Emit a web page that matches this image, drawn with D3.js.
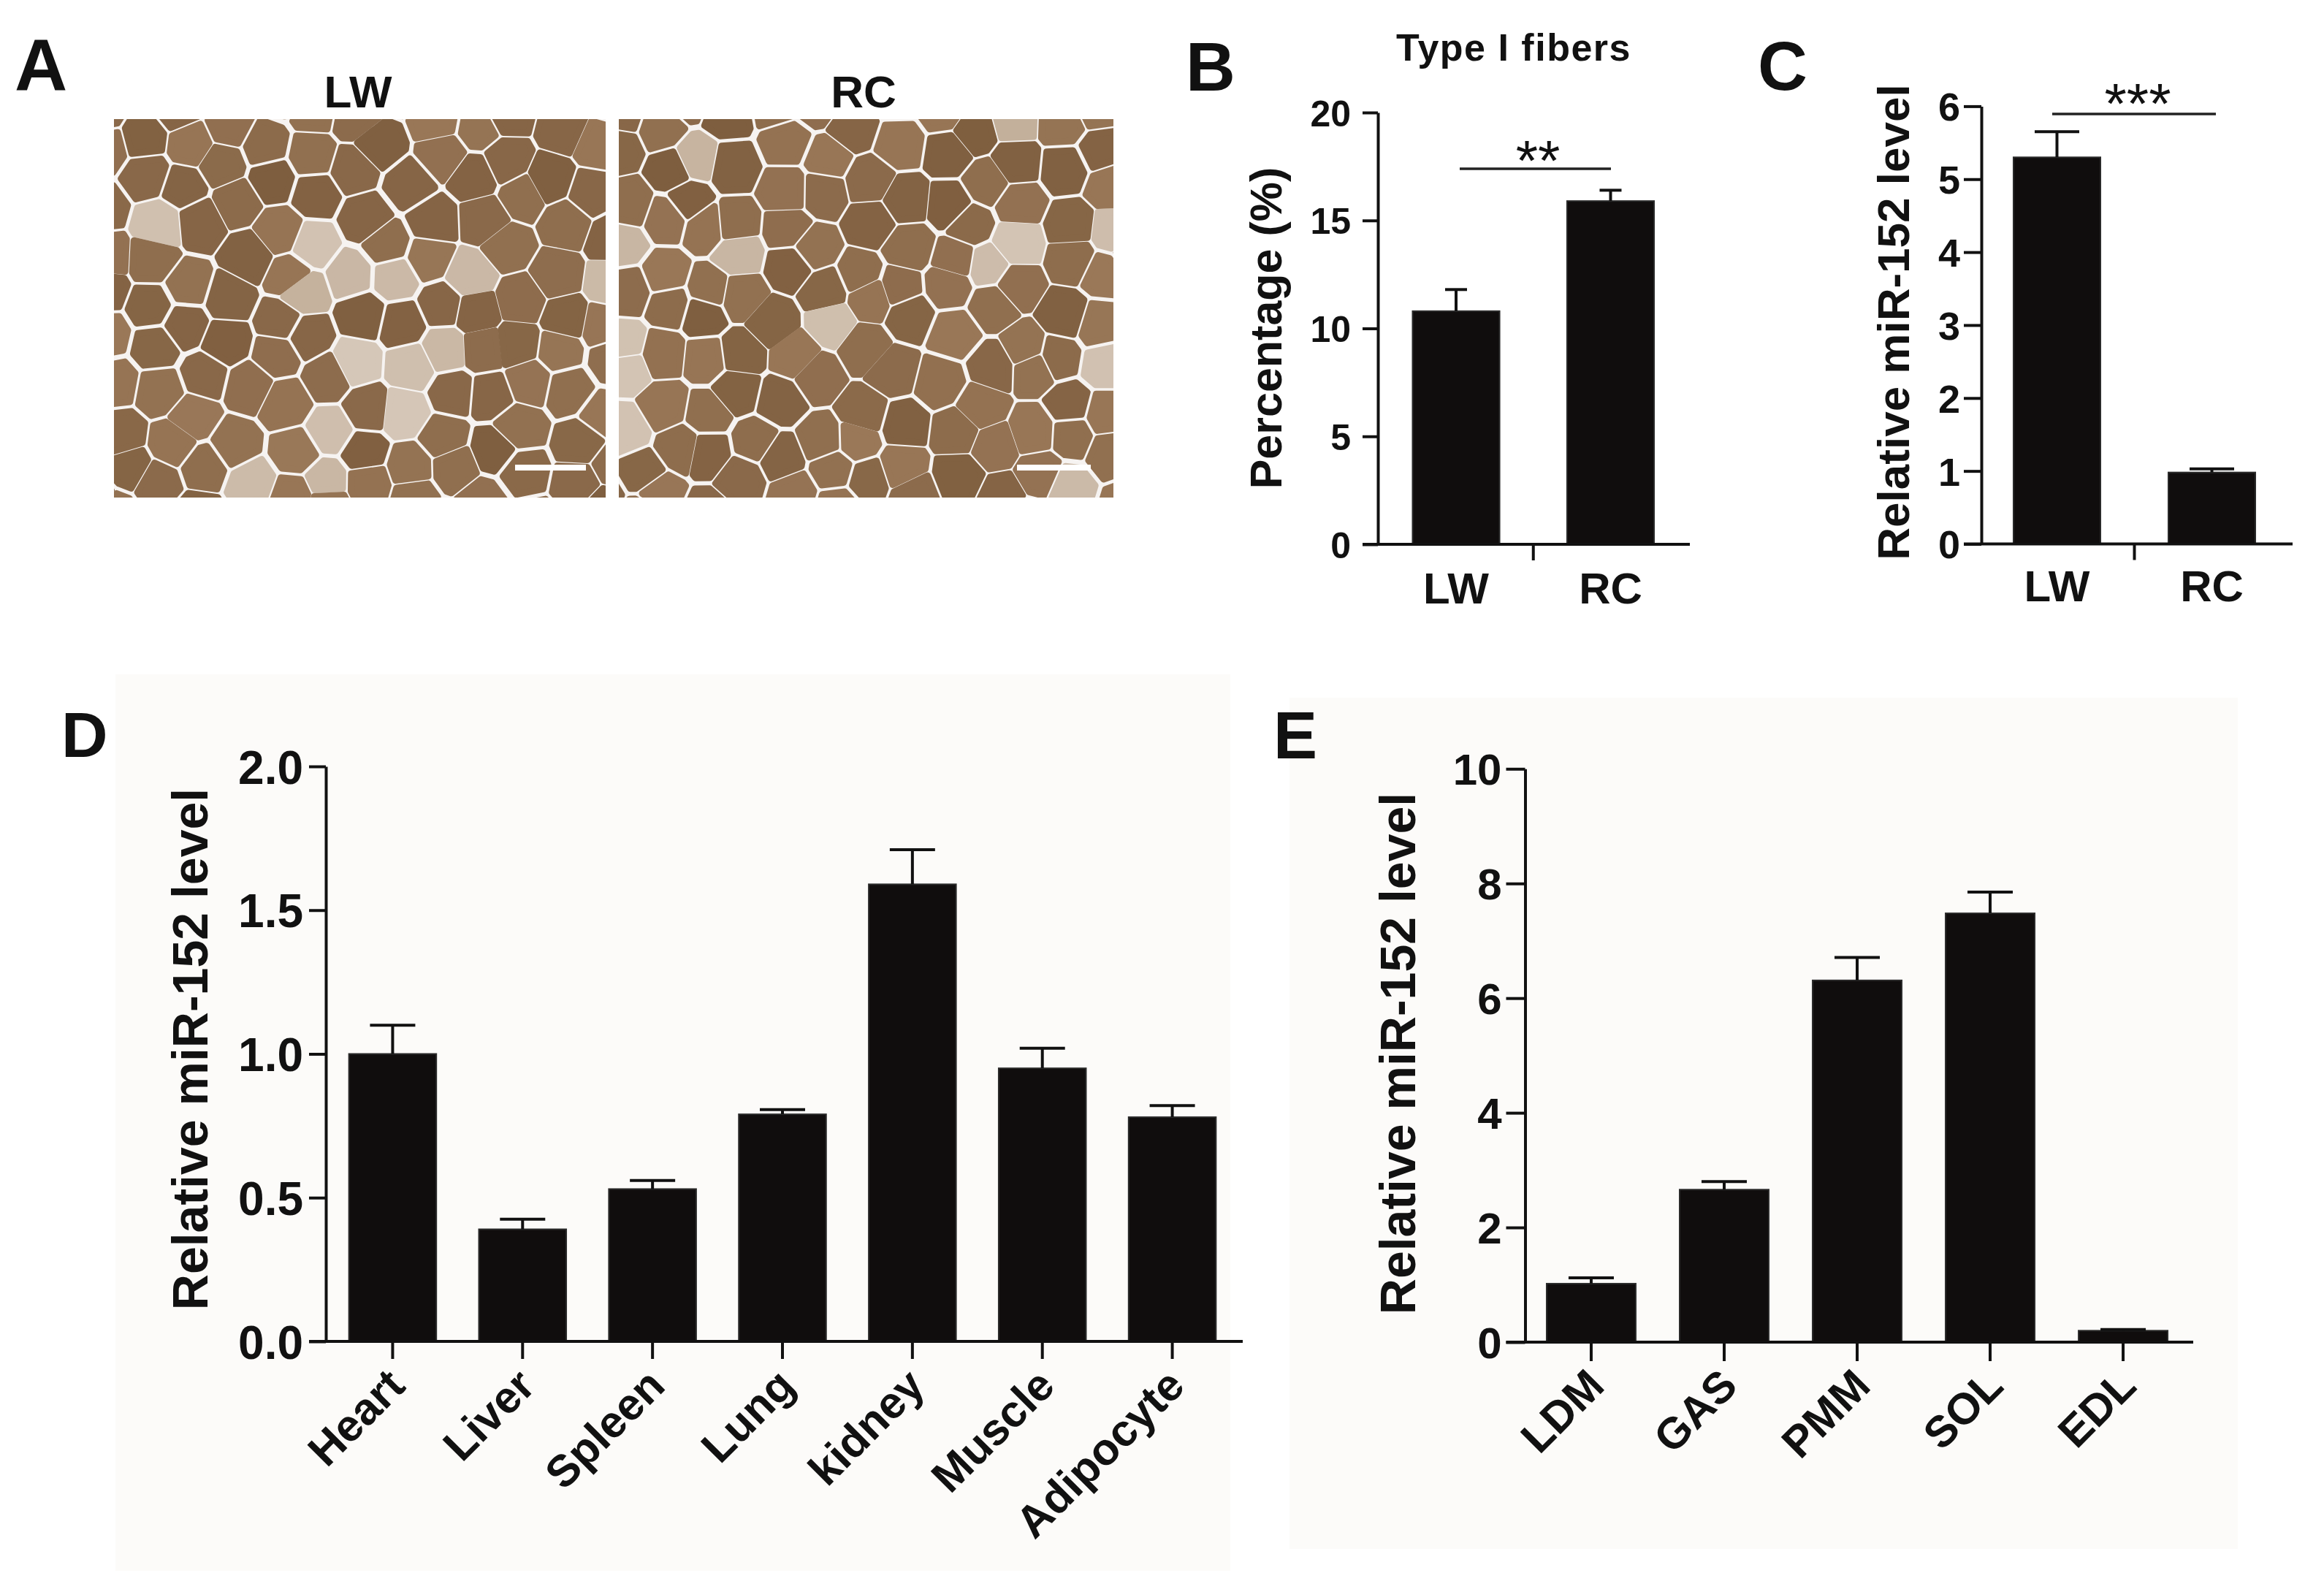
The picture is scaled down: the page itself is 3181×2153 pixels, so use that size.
<!DOCTYPE html>
<html>
<head>
<meta charset="utf-8">
<script src="https://cdn.jsdelivr.net/npm/d3@7"></script>
<style>
  html, body { margin: 0; padding: 0; background: #ffffff; }
  svg { display: block; }
</style>
</head>
<body>
<script>
// ---------------- DATA ----------------
const bCats = ["LW", "RC"];
const bVals = [10.8, 15.9];
const bErr  = [1.0, 0.5];
const bTicks = [0, 5, 10, 15, 20];

const cCats = ["LW", "RC"];
const cVals = [5.30, 0.98];
const cErr  = [0.35, 0.05];
const cTicks = [0, 1, 2, 3, 4, 5, 6];

const dCats = ["Heart", "Liver", "Spleen", "Lung", "kidney", "Muscle", "Adipocyte"];
const dVals = [1.00, 0.39, 0.53, 0.79, 1.59, 0.95, 0.78];
const dErr  = [0.10, 0.035, 0.03, 0.016, 0.12, 0.07, 0.04];
const dTicks = [0, 0.5, 1.0, 1.5, 2.0];

const eCats = ["LDM", "GAS", "PMM", "SOL", "EDL"];
const eVals = [1.02, 2.66, 6.31, 7.48, 0.20];
const eErr  = [0.10, 0.14, 0.40, 0.37, 0.02];
const eTicks = [0, 2, 4, 6, 8, 10];

const panelLetters = ["A", "B", "C", "D", "E"];
const aTitles = ["LW", "RC"];
const bTitle = "Type I fibers";
const yLabelB = "Percentage (%)";
const yLabelRel = "Relative miR-152 level";
const sigB = "**";
const sigC = "***";
// share of light (type I) fibres drawn in the two micrographs
const aLightShare = [0.065, 0.12];

// ---------------- SETUP ----------------
const W = 3181, H = 2153;
const FF = "'Liberation Sans', Arial, Helvetica, sans-serif";
const INK = "#111111";

const svg = d3.select("body").append("svg")
  .attr("width", W).attr("height", H)
  .attr("viewBox", `0 0 ${W} ${H}`);

svg.append("rect").attr("width", W).attr("height", H).attr("fill", "#ffffff");
// faint panel backgrounds (scan tint)
svg.append("rect").attr("x", 158).attr("y", 923).attr("width", 1526).attr("height", 1227).attr("fill", "#fcfbf9");
svg.append("rect").attr("x", 1765).attr("y", 955).attr("width", 1298).attr("height", 1165).attr("fill", "#fcfbf9");

function txt(g, s, x, y, size, opts = {}) {
  return g.append("text")
    .attr("x", x).attr("y", y)
    .attr("font-family", FF)
    .attr("font-size", size)
    .attr("font-weight", opts.weight || "bold")
    .attr("text-anchor", opts.anchor || "start")
    .attr("fill", INK)
    .attr("letter-spacing", opts.ls || null)
    .text(s);
}

// panel letters
txt(svg, panelLetters[0], 20, 124, 100);
txt(svg, panelLetters[1], 1623, 124, 94);
txt(svg, panelLetters[2], 2406, 123, 94);
txt(svg, panelLetters[3], 84, 1036, 88);
txt(svg, panelLetters[4], 1743, 1038, 90);

// ---------------- PANEL A : micrographs ----------------
function hash(i, j, s) {
  const v = Math.sin(i * 127.1 + j * 311.7 + s * 74.7) * 43758.5453;
  return v - Math.floor(v);
}
function micrograph(x0, y0, w, h, seed, lightShare, id) {
  const g = svg.append("g");
  const clip = svg.append("clipPath").attr("id", id);
  clip.append("rect").attr("x", x0).attr("y", y0).attr("width", w).attr("height", h);
  const cg = g.append("g").attr("clip-path", `url(#${id})`);
  cg.append("rect").attr("x", x0).attr("y", y0).attr("width", w).attr("height", h).attr("fill", "#f6f3f1");
  const pts = [];
  const sx = 66, sy = 52;
  const ang = -0.6;
  const cx = x0 + w / 2, cy = y0 + h / 2;
  for (let j = -10; j <= 10; j++) {
    for (let i = -10; i <= 10; i++) {
      let px = i * sx + (Math.abs(j) % 2) * sx / 2 + (hash(i, j, seed) - 0.5) * sx * 0.6;
      let py = j * sy + (hash(j, i, seed + 3) - 0.5) * sy * 0.6;
      const rx = px * Math.cos(ang) - py * Math.sin(ang);
      const ry = px * Math.sin(ang) + py * Math.cos(ang);
      const X = cx + rx, Y = cy + ry;
      if (X > x0 - 120 && X < x0 + w + 120 && Y > y0 - 120 && Y < y0 + h + 120) pts.push([X, Y, i, j]);
    }
  }
  const del = d3.Delaunay.from(pts, p => p[0], p => p[1]);
  const vor = del.voronoi([x0 - 150, y0 - 150, x0 + w + 150, y0 + h + 150]);
  const darkCol = d3.interpolateRgb("#7e5e3f", "#9a7858");
  const lightCol = d3.interpolateRgb("#c2ae99", "#d6c8b9");
  pts.forEach((p, k) => {
    const poly = vor.cellPolygon(k);
    if (!poly) return;
    const c = d3.polygonCentroid(poly);
    const shrink = 0.76 + 0.08 * hash(p[2] + 3, p[3] + 5, seed + 1);
    const sp = poly.map(q => [c[0] + (q[0] - c[0]) * shrink, c[1] + (q[1] - c[1]) * shrink]);
    const isLight = hash(p[2] + 7, p[3] + 11, seed + 9) < lightShare;
    const col = isLight ? lightCol(hash(p[2], p[3], seed + 5)) : darkCol(hash(p[2], p[3], seed + 5));
    cg.append("path")
      .attr("d", "M" + sp.map(q => q.join(",")).join("L") + "Z")
      .attr("fill", col)
      .attr("stroke", col)
      .attr("stroke-width", 9)
      .attr("stroke-linejoin", "round");
  });
  return g;
}
micrograph(156, 163, 673, 518, 1, aLightShare[0], "clipA1");
micrograph(847, 163, 677, 518, 2, aLightShare[1], "clipA2");
// scale bars
svg.append("rect").attr("x", 705).attr("y", 636).attr("width", 97).attr("height", 8).attr("fill", "#ffffff");
svg.append("rect").attr("x", 1392).attr("y", 636).attr("width", 101).attr("height", 8).attr("fill", "#ffffff");
txt(svg, aTitles[0], 490, 147, 62, { anchor: "middle" });
txt(svg, aTitles[1], 1182, 147, 62, { anchor: "middle" });

// ---------------- generic bar panel ----------------
function barPanel(cfg) {
  const g = svg.append("g");
  const y = d3.scaleLinear().domain(cfg.yDomain).range([cfg.y0, cfg.y1]);
  const x = d3.scaleBand().domain(cfg.cats).range([cfg.axisX, cfg.xEnd])
    .paddingInner(cfg.pi).paddingOuter(cfg.po);

  // bars
  g.selectAll("rect.bar").data(cfg.cats).join("rect")
    .attr("class", "bar")
    .attr("x", d => x(d))
    .attr("width", x.bandwidth())
    .attr("y", (d, i) => y(cfg.vals[i]))
    .attr("height", (d, i) => y(0) - y(cfg.vals[i]))
    .attr("fill", "#100d0d")
    .attr("stroke", "#2a2a2a").attr("stroke-width", 2);

  // error bars (upper only)
  const eb = g.selectAll("g.err").data(cfg.cats).join("g").attr("class", "err");
  eb.append("line")
    .attr("x1", d => x(d) + x.bandwidth() / 2).attr("x2", d => x(d) + x.bandwidth() / 2)
    .attr("y1", (d, i) => y(cfg.vals[i])).attr("y2", (d, i) => y(cfg.vals[i] + cfg.errs[i]))
    .attr("stroke", INK).attr("stroke-width", 4);
  eb.append("line")
    .attr("x1", d => x(d) + x.bandwidth() / 2 - cfg.capW / 2).attr("x2", d => x(d) + x.bandwidth() / 2 + cfg.capW / 2)
    .attr("y1", (d, i) => y(cfg.vals[i] + cfg.errs[i])).attr("y2", (d, i) => y(cfg.vals[i] + cfg.errs[i]))
    .attr("stroke", INK).attr("stroke-width", 4);

  // y axis
  const ya = g.append("g").attr("transform", `translate(${cfg.axisX},0)`)
    .call(d3.axisLeft(y).tickValues(cfg.ticks).tickSize(cfg.tickLen).tickSizeOuter(0)
      .tickPadding(cfg.tickPad).tickFormat(cfg.fmt));
  ya.attr("font-family", FF).attr("font-size", cfg.tickFont).attr("font-weight", "bold");
  ya.select(".domain").attr("stroke", INK).attr("stroke-width", 4);
  ya.selectAll(".tick line").attr("stroke", INK).attr("stroke-width", 4);
  ya.selectAll(".tick text").attr("fill", INK).attr("dy", "0.36em");

  // x axis line
  g.append("line")
    .attr("x1", cfg.axisX - cfg.tickLen).attr("x2", cfg.xLineEnd)
    .attr("y1", y(0)).attr("y2", y(0))
    .attr("stroke", INK).attr("stroke-width", 4);

  if (cfg.rotated) {
    const xa = g.append("g").attr("transform", `translate(0,${y(0)})`)
      .call(d3.axisBottom(x).tickSize(cfg.xTickLen).tickSizeOuter(0));
    xa.select(".domain").remove();
    xa.attr("font-family", FF).attr("font-size", cfg.xFont).attr("font-weight", "bold");
    xa.selectAll(".tick line").attr("stroke", INK).attr("stroke-width", 4);
    xa.selectAll(".tick text")
      .attr("fill", INK)
      .attr("x", 0).attr("y", 0).attr("dy", 0)
      .attr("text-anchor", "end")
      .attr("transform", `translate(${cfg.labDx},${cfg.labDy}) rotate(-45)`);
  } else {
    // single tick between the two groups
    const mid = (x(cfg.cats[0]) + x.bandwidth() + x(cfg.cats[1])) / 2;
    g.append("line").attr("x1", mid).attr("x2", mid)
      .attr("y1", y(0)).attr("y2", y(0) + cfg.xTickLen)
      .attr("stroke", INK).attr("stroke-width", 4);
    cfg.cats.forEach(c => {
      txt(g, c, x(c) + x.bandwidth() / 2, cfg.xLabY, cfg.xFont, { anchor: "middle" });
    });
  }

  // y label
  g.append("text")
    .attr("transform", `translate(${cfg.ylabX},${cfg.ylabY}) rotate(-90)`)
    .attr("text-anchor", "middle")
    .attr("font-family", FF).attr("font-size", cfg.ylabFont).attr("font-weight", "bold")
    .attr("fill", INK)
    .text(cfg.ylab);

  return { g, x, y };
}

// ---------------- PANEL B ----------------
barPanel({
  cats: bCats, vals: bVals, errs: bErr, ticks: bTicks, fmt: d3.format("d"),
  yDomain: [0, 20], y0: 745, y1: 154,
  axisX: 1886, xEnd: 2311.5, pi: 0.437, po: 0.2246, xLineEnd: 2313,
  capW: 30, tickLen: 21, tickPad: 16, tickFont: 50,
  xTickLen: 22, xLabY: 826, xFont: 60,
  ylab: yLabelB, ylabX: 1754, ylabY: 449, ylabFont: 61
});
txt(svg, bTitle, 2072, 83, 52, { anchor: "middle", ls: 1.5 });
svg.append("line").attr("x1", 1998).attr("x2", 2205).attr("y1", 231).attr("y2", 231)
  .attr("stroke", "#222").attr("stroke-width", 3.5);
txt(svg, sigB, 2105, 247, 78, { anchor: "middle", weight: "normal" });

// ---------------- PANEL C ----------------
barPanel({
  cats: cCats, vals: cVals, errs: cErr, ticks: cTicks, fmt: d3.format("d"),
  yDomain: [0, 6], y0: 744.5, y1: 145.4,
  axisX: 2712, xEnd: 3131, pi: 0.4387, po: 0.2075, xLineEnd: 3138,
  capW: 61, tickLen: 24, tickPad: 5, tickFont: 54,
  xTickLen: 22, xLabY: 823, xFont: 60,
  ylab: yLabelRel, ylabX: 2613, ylabY: 441, ylabFont: 62
});
svg.append("line").attr("x1", 2809).attr("x2", 3033).attr("y1", 156).attr("y2", 156)
  .attr("stroke", "#222").attr("stroke-width", 3.5);
txt(svg, sigC, 2926, 169, 78, { anchor: "middle", weight: "normal" });

// ---------------- PANEL D ----------------
barPanel({
  cats: dCats, vals: dVals, errs: dErr, ticks: dTicks, fmt: d3.format(".1f"),
  yDomain: [0, 2], y0: 1836, y1: 1049,
  axisX: 446, xEnd: 1696, pi: 0.328, po: 0.178, xLineEnd: 1701,
  capW: 62, tickLen: 23, tickPad: 8, tickFont: 64,
  rotated: true, xTickLen: 24, xFont: 61, labDx: 20, labDy: 64,
  ylab: yLabelRel, ylabX: 284, ylabY: 1436, ylabFont: 68
});

// ---------------- PANEL E ----------------
barPanel({
  cats: eCats, vals: eVals, errs: eErr, ticks: eTicks, fmt: d3.format("d"),
  yDomain: [0, 10], y0: 1837, y1: 1052.3,
  axisX: 2087.5, xEnd: 2996.5, pi: 0.33, po: 0.162, xLineEnd: 3002,
  capW: 62, tickLen: 26, tickPad: 6, tickFont: 60,
  rotated: true, xTickLen: 26, xFont: 60, labDx: 21, labDy: 63,
  ylab: yLabelRel, ylabX: 1937, ylabY: 1442, ylabFont: 68
});
</script>
</body>
</html>
